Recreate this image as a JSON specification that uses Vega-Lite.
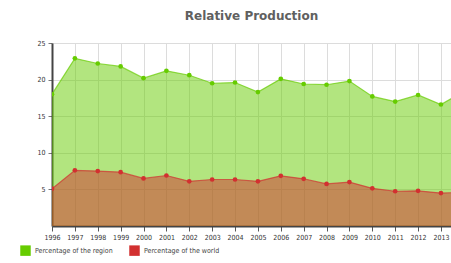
{
  "$schema": "https://vega.github.io/schema/vega-lite/v6.json",
  "autosize": "none",
  "width": 399,
  "height": 183,
  "padding": {"left": 52, "top": 43, "right": 0, "bottom": 37},
  "background": "white",
  "title": {"text": "Relative Production", "fontSize": 12, "font": "DejaVu Sans", "fontWeight": "bold", "color": "#606060", "offset": 16, "anchor": "middle"},
  "data": {"values": [
    {"year": 1996, "series": "Percentage of the region", "value": 18.0},
    {"year": 1997, "series": "Percentage of the region", "value": 22.9},
    {"year": 1998, "series": "Percentage of the region", "value": 22.2},
    {"year": 1999, "series": "Percentage of the region", "value": 21.8},
    {"year": 2000, "series": "Percentage of the region", "value": 20.2},
    {"year": 2001, "series": "Percentage of the region", "value": 21.2},
    {"year": 2002, "series": "Percentage of the region", "value": 20.6},
    {"year": 2003, "series": "Percentage of the region", "value": 19.5},
    {"year": 2004, "series": "Percentage of the region", "value": 19.6},
    {"year": 2005, "series": "Percentage of the region", "value": 18.3},
    {"year": 2006, "series": "Percentage of the region", "value": 20.1},
    {"year": 2007, "series": "Percentage of the region", "value": 19.4},
    {"year": 2008, "series": "Percentage of the region", "value": 19.3},
    {"year": 2009, "series": "Percentage of the region", "value": 19.8},
    {"year": 2010, "series": "Percentage of the region", "value": 17.7},
    {"year": 2011, "series": "Percentage of the region", "value": 17.0},
    {"year": 2012, "series": "Percentage of the region", "value": 17.9},
    {"year": 2013, "series": "Percentage of the region", "value": 16.6},
    {"year": 2014, "series": "Percentage of the region", "value": 18.4},
    {"year": 1996, "series": "Percentage of the world", "value": 5.1},
    {"year": 1997, "series": "Percentage of the world", "value": 7.6},
    {"year": 1998, "series": "Percentage of the world", "value": 7.5},
    {"year": 1999, "series": "Percentage of the world", "value": 7.35},
    {"year": 2000, "series": "Percentage of the world", "value": 6.5},
    {"year": 2001, "series": "Percentage of the world", "value": 6.9},
    {"year": 2002, "series": "Percentage of the world", "value": 6.1},
    {"year": 2003, "series": "Percentage of the world", "value": 6.35},
    {"year": 2004, "series": "Percentage of the world", "value": 6.35},
    {"year": 2005, "series": "Percentage of the world", "value": 6.1},
    {"year": 2006, "series": "Percentage of the world", "value": 6.85},
    {"year": 2007, "series": "Percentage of the world", "value": 6.45},
    {"year": 2008, "series": "Percentage of the world", "value": 5.75},
    {"year": 2009, "series": "Percentage of the world", "value": 6.0},
    {"year": 2010, "series": "Percentage of the world", "value": 5.15},
    {"year": 2011, "series": "Percentage of the world", "value": 4.75},
    {"year": 2012, "series": "Percentage of the world", "value": 4.8},
    {"year": 2013, "series": "Percentage of the world", "value": 4.5},
    {"year": 2014, "series": "Percentage of the world", "value": 4.6}
  ]},
  "encoding": {
    "x": {"field": "year", "type": "quantitative",
      "scale": {"domain": [1996, 2013.44], "nice": false, "zero": false},
      "axis": {"title": null, "values": [1996,1997,1998,1999,2000,2001,2002,2003,2004,2005,2006,2007,2008,2009,2010,2011,2012,2013],
        "format": "d", "labelFontSize": 7, "labelFont": "DejaVu Sans Condensed", "labelColor": "#333",
        "domainColor": "#444", "domainWidth": 2, "tickColor": "#555", "tickSize": 5, "labelPadding": 2,
        "grid": true, "gridColor": "#dcdcdc", "labelFlush": false}},
    "y": {"field": "value", "type": "quantitative", "stack": null,
      "scale": {"domain": [0, 25], "nice": false},
      "axis": {"title": null, "values": [5, 10, 15, 20, 25], "labelFontSize": 7, "labelFont": "DejaVu Sans Condensed", "labelColor": "#333",
        "domainColor": "#444", "domainWidth": 2, "tickColor": "#777", "tickSize": 4, "labelPadding": 3,
        "grid": true, "gridColor": "#dcdcdc"}},
    "color": {"field": "series", "type": "nominal",
      "scale": {"domain": ["Percentage of the region", "Percentage of the world"], "range": ["#66cc00", "#d23030"]},
      "legend": {"title": null, "orient": "none", "legendX": -32, "legendY": 202, "direction": "horizontal",
        "symbolType": "square", "symbolSize": 110, "symbolOpacity": 1, "symbolStrokeWidth": 0,
        "labelFontSize": 7, "labelFont": "DejaVu Sans Condensed", "labelColor": "#444", "columnPadding": 16}}
  },
  "layer": [
    {"mark": {"type": "area", "opacity": 0.5, "clip": true}},
    {"mark": {"type": "line", "strokeWidth": 1.2, "opacity": 0.7, "clip": true}},
    {"mark": {"type": "point", "filled": true, "size": 22, "opacity": 1, "clip": true}}
  ],
  "config": {"view": {"stroke": null}}
}
